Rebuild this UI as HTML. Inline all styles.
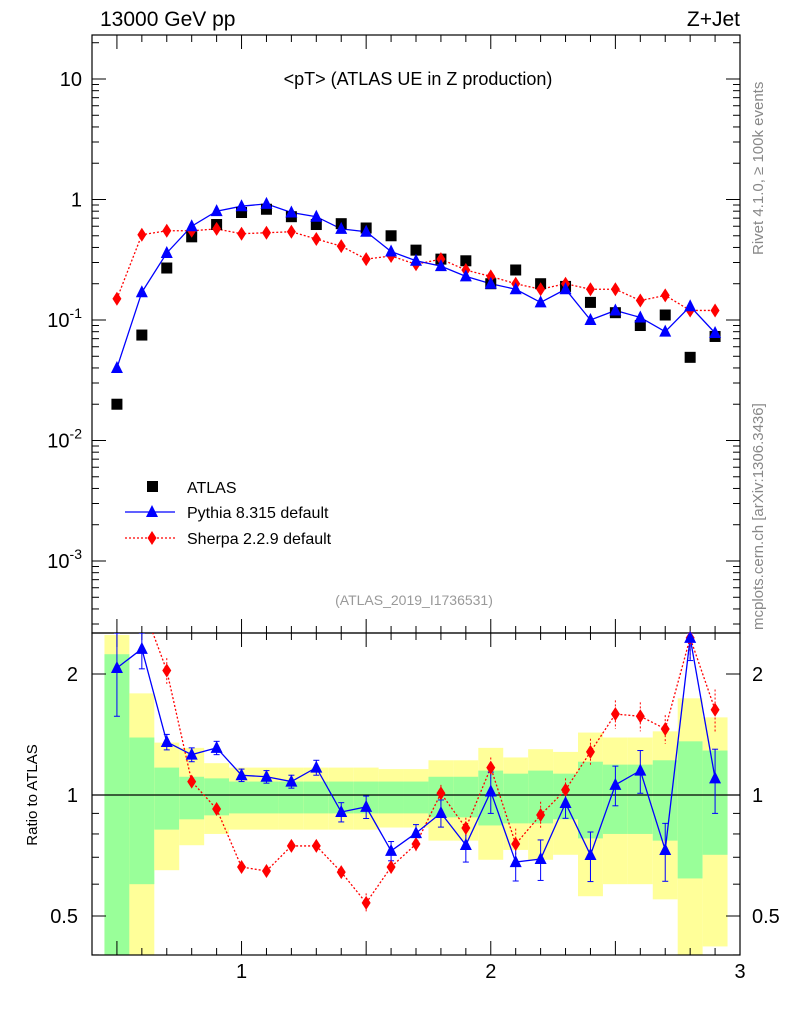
<!DOCTYPE html>
<html><head><meta charset="utf-8"><style>
body{margin:0;background:#fff;}
svg text{font-family:"Liberation Sans",sans-serif;}
</style></head><body>
<svg id="c" width="786" height="1024" xmlns="http://www.w3.org/2000/svg"></svg>
<script>
const xs=[0.5,0.6,0.7,0.8,0.9,1.0,1.1,1.2,1.3,1.4,1.5,1.6,1.7,1.8,1.9,2.0,2.1,2.2,2.3,2.4,2.5,2.6,2.7,2.8,2.9];
const atlas=[0.02,0.075,0.27,0.49,0.62,0.78,0.83,0.72,0.62,0.63,0.58,0.5,0.38,0.32,0.31,0.2,0.26,0.2,0.19,0.14,0.115,0.09,0.11,0.049,0.073];
const pythia=[0.04,0.17,0.36,0.6,0.8,0.88,0.92,0.78,0.72,0.57,0.54,0.37,0.31,0.28,0.23,0.2,0.18,0.14,0.18,0.1,0.12,0.105,0.08,0.13,0.078];
const sherpa=[0.15,0.51,0.55,0.55,0.57,0.52,0.53,0.54,0.47,0.41,0.32,0.34,0.29,0.32,0.26,0.23,0.2,0.18,0.2,0.18,0.18,0.145,0.16,0.12,0.12];
const pyRatio=[2.07,2.31,1.355,1.26,1.31,1.12,1.11,1.08,1.17,0.907,0.934,0.726,0.804,0.902,0.751,1.02,0.681,0.693,0.955,0.709,1.06,1.15,0.73,2.46,1.10];
const pyRatioErr=[0.5,0.25,0.06,0.05,0.05,0.04,0.04,0.04,0.05,0.05,0.06,0.04,0.04,0.07,0.07,0.12,0.07,0.08,0.08,0.1,0.12,0.14,0.12,0.3,0.2];
const shRatio=[3.0,3.0,2.04,1.08,0.923,0.662,0.647,0.747,0.747,0.643,0.539,0.662,0.755,1.01,0.828,1.17,0.755,0.892,1.03,1.28,1.59,1.57,1.46,2.46,1.63];
const shRatioErr=[0.2,0.2,0.15,0.03,0.03,0.02,0.02,0.02,0.02,0.02,0.03,0.03,0.03,0.05,0.05,0.07,0.07,0.07,0.07,0.1,0.13,0.13,0.12,0.3,0.2];
const greenLo=[0.4,0.6,0.82,0.87,0.89,0.9,0.9,0.9,0.9,0.9,0.9,0.9,0.9,0.88,0.88,0.84,0.85,0.85,0.87,0.78,0.8,0.8,0.77,0.62,0.71];
const greenHi=[2.24,1.39,1.17,1.11,1.10,1.08,1.08,1.08,1.08,1.08,1.08,1.08,1.08,1.11,1.11,1.15,1.13,1.15,1.13,1.21,1.19,1.19,1.22,1.36,1.29];
const yellowLo=[0.4,0.4,0.65,0.75,0.8,0.82,0.82,0.82,0.82,0.82,0.82,0.83,0.83,0.77,0.77,0.69,0.73,0.69,0.71,0.56,0.6,0.6,0.55,0.4,0.42];
const yellowHi=[2.5,1.79,1.35,1.31,1.20,1.17,1.17,1.17,1.17,1.17,1.17,1.16,1.16,1.22,1.22,1.31,1.24,1.30,1.28,1.43,1.39,1.39,1.44,1.74,1.56];
const xTicks=[1,2,3];
const yTicks=[[10,"10"],[1,"1"],[0.1,"10^-1"],[0.01,"10^-2"],[0.001,"10^-3"]];
const rTicks=[[2,"2"],[1,"1"],[0.5,"0.5"]];

const svg=document.getElementById('c');
const NS='http://www.w3.org/2000/svg';
function el(t,a,p){const e=document.createElementNS(NS,t);for(const k in a)e.setAttribute(k,a[k]);(p||svg).appendChild(e);return e;}
const L=92,R=740,T=35,M=633,B=955;
const X=v=>L+(v-0.4)/2.6*(R-L);
const Y=v=>79-(Math.log10(v)-1)*120.5;
const YR=v=>{let y=795-121*Math.log2(v);return Math.max(M,Math.min(B,y));};

for(let i=0;i<xs.length;i++){
 const x0=X(xs[i]-0.05),x1=X(xs[i]+0.05);
 let r=el('rect',{x:x0,y:YR(yellowHi[i]),width:x1-x0,height:YR(yellowLo[i])-YR(yellowHi[i]),fill:'#ffff99'});
 
 
 r=el('rect',{x:x0,y:YR(greenHi[i]),width:x1-x0,height:YR(greenLo[i])-YR(greenHi[i]),fill:'#99ff99'});
 
 
}
el('line',{x1:L,x2:R,y1:YR(1),y2:YR(1),stroke:'#000','stroke-width':1.2});

let f=el('rect',{x:L,y:T,width:R-L,height:M-T,fill:'none',stroke:'#000','stroke-width':1.2});

f=el('rect',{x:L,y:M,width:R-L,height:B-M,fill:'none',stroke:'#000','stroke-width':1.2});


for(let k=4;k<=30;k++){const v=k/10,x=X(v);const big=k%5==0?14:7;
 [[T,1],[M,-1],[M,1],[B,-1]].forEach(([y,d])=>el('line',{x1:x,x2:x,y1:y,y2:y+d*big,stroke:'#000'}));}
xTicks.forEach(v=>{const t=el('text',{x:X(v),y:978,'font-size':20,'text-anchor':'middle'});t.textContent=v;
 });
for(let d=-4;d<=1;d++)for(let m=1;m<=9;m++){const v=m*Math.pow(10,d),y=Y(v);if(y<T||y>M)continue;
 const w=m==1?14:7;el('line',{x1:L,x2:L+w,y1:y,y2:y,stroke:'#000'});el('line',{x1:R,x2:R-w,y1:y,y2:y,stroke:'#000'});}
yTicks.forEach(([v,s])=>{const t=el('text',{x:82,y:Y(v)+7,'font-size':20,'text-anchor':'end'});
 if(s.includes('^')){const [a,b]=s.split('^');t.textContent=a;const ts=el('tspan',{dy:-9,'font-size':14},t);ts.textContent=b;}else t.textContent=s;
 });
[0.4,0.5,0.6,0.7,0.8,0.9,1,2].forEach(v=>{const y=YR(v);const w=(v==1||v==2||v==0.5)?14:7;
 el('line',{x1:L,x2:L+w,y1:y,y2:y,stroke:'#000'});el('line',{x1:R,x2:R-w,y1:y,y2:y,stroke:'#000'});});
rTicks.forEach(([v,s])=>{let t=el('text',{x:78,y:YR(v)+7,'font-size':20,'text-anchor':'end'});t.textContent=s;
 
 t=el('text',{x:752,y:YR(v)+7,'font-size':20});t.textContent=s;
 });

function tri(x,y,c,n){const p=el('polygon',{points:`${x},${y-7} ${x-6},${y+5} ${x+6},${y+5}`,fill:c});}
function dia(x,y,c,n){const p=el('polygon',{points:`${x},${y-7} ${x-4.5},${y} ${x},${y+7} ${x+4.5},${y}`,fill:c});}
let pp=xs.map((v,i)=>X(v)+','+Y(sherpa[i])).join(' ');
let pl=el('polyline',{points:pp,fill:'none',stroke:'#f00','stroke-width':1.3,'stroke-dasharray':'2,2'});

pp=xs.map((v,i)=>X(v)+','+Y(pythia[i])).join(' ');
pl=el('polyline',{points:pp,fill:'none',stroke:'#00f','stroke-width':1.3});

xs.forEach((v,i)=>{const s=el('rect',{x:X(v)-5.5,y:Y(atlas[i])-5.5,width:11,height:11,fill:'#000'});
 
 dia(X(v),Y(sherpa[i]),'#f00','sherpa-point');tri(X(v),Y(pythia[i]),'#00f','pythia-point');});

const clipR=el('clipPath',{id:'cr'});el('rect',{x:L,y:M,width:R-L,height:B-M},clipR);
const g=el('g',{'clip-path':'url(#cr)'});
pp=xs.map((v,i)=>X(v)+','+(795-121*Math.log2(shRatio[i]))).join(' ');
pl=el('polyline',{points:pp,fill:'none',stroke:'#f00','stroke-width':1.3,'stroke-dasharray':'2,2'},g);

pp=xs.map((v,i)=>X(v)+','+(795-121*Math.log2(pyRatio[i]))).join(' ');
pl=el('polyline',{points:pp,fill:'none',stroke:'#00f','stroke-width':1.3},g);

xs.forEach((v,i)=>{
 const x=X(v);
 let e=el('line',{x1:x,x2:x,y1:YR(shRatio[i]+shRatioErr[i]),y2:YR(shRatio[i]-shRatioErr[i]),stroke:'#f00','stroke-dasharray':'2,2'},g);
 
 e=el('line',{x1:x,x2:x,y1:YR(pyRatio[i]+pyRatioErr[i]),y2:YR(pyRatio[i]-pyRatioErr[i]),stroke:'#00f'},g);
 
 [pyRatio[i]+pyRatioErr[i],pyRatio[i]-pyRatioErr[i]].forEach(r=>el('line',{x1:x-3,x2:x+3,y1:YR(r),y2:YR(r),stroke:'#00f'},g));
 const ys=795-121*Math.log2(shRatio[i]);if(ys>M-5)dia(x,ys,'#f00','sherpa-ratio-point');
 const yp=795-121*Math.log2(pyRatio[i]);if(yp>M-5)tri(x,yp,'#00f','pythia-ratio-point');
});

function txt(s,a,n){const t=el('text',a);t.textContent=s;return t;}
txt('13000 GeV pp',{x:100,y:26,'font-size':21},'energy-label');
txt('Z+Jet',{x:740,y:26,'font-size':21,'text-anchor':'end'},'process-label');
txt('<pT> (ATLAS UE in Z production)',{x:418,y:85,'font-size':18,'text-anchor':'middle'},'plot-title');
txt('(ATLAS_2019_I1736531)',{x:414,y:605,'font-size':14,fill:'#999','text-anchor':'middle'},'analysis-id');
txt('Rivet 4.1.0, ≥ 100k events',{x:0,y:0,'font-size':15,fill:'#888',transform:'translate(763,255) rotate(-90)'},'rivet-label');
txt('mcplots.cern.ch [arXiv:1306.3436]',{x:0,y:0,'font-size':15,fill:'#888',transform:'translate(763,630) rotate(-90)'},'mcplots-label');
txt('Ratio to ATLAS',{x:0,y:0,'font-size':15,'text-anchor':'middle',transform:'translate(37,795) rotate(-90)'},'ratio-axis-title');
let s=el('rect',{x:147,y:481,width:11,height:11,fill:'#000'});
txt('ATLAS',{x:187,y:493,'font-size':16},'legend-atlas');
el('line',{x1:125,x2:175,y1:512,y2:512,stroke:'#00f','stroke-width':1.3});tri(152,512,'#00f','legend-pythia-marker');
txt('Pythia 8.315 default',{x:187,y:518,'font-size':16},'legend-pythia');
el('line',{x1:125,x2:175,y1:538,y2:538,stroke:'#f00','stroke-width':1.3,'stroke-dasharray':'2,2'});dia(152,538,'#f00','legend-sherpa-marker');
txt('Sherpa 2.2.9 default',{x:187,y:544,'font-size':16},'legend-sherpa');
</script>
</body></html>
